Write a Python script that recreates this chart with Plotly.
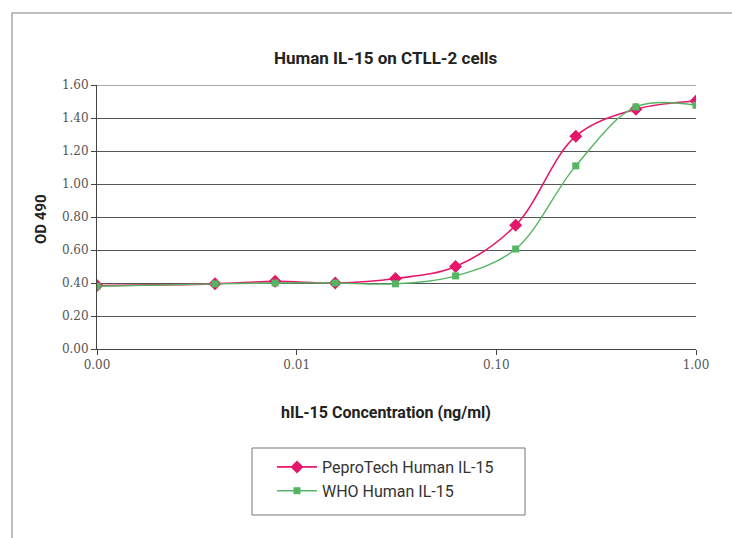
import plotly.graph_objects as go

conc = [0.001, 0.0039, 0.0078, 0.0156, 0.03125, 0.0625, 0.125, 0.25, 0.5, 1.0]
peprotech = [0.385, 0.395, 0.41, 0.40, 0.427, 0.50, 0.75, 1.29, 1.453, 1.503]
who = [0.38, 0.395, 0.40, 0.40, 0.395, 0.443, 0.606, 1.11, 1.467, 1.477]
x_tickvals = [0.001, 0.01, 0.1, 1.0]
x_ticktext = ["0.00", "0.01", "0.10", "1.00"]
y_tickvals = [0, 0.2, 0.4, 0.6, 0.8, 1.0, 1.2, 1.4, 1.6]
y_ticktext = ["0.00", "0.20", "0.40", "0.60", "0.80", "1.00", "1.20", "1.40", "1.60"]

PINK = "#e5176b"
GREEN = "#55b562"

fig = go.Figure()
fig.add_trace(go.Scatter(
    x=conc, y=peprotech, name="PeproTech Human IL-15", mode="lines+markers",
    line=dict(color=PINK, width=1.6, shape="spline", smoothing=1.0),
    marker=dict(symbol="diamond", size=10, color=PINK),
))
fig.add_trace(go.Scatter(
    x=conc, y=who, name="WHO Human IL-15", mode="lines+markers",
    line=dict(color=GREEN, width=1.4, shape="spline", smoothing=1.0),
    marker=dict(symbol="square", size=7, color=GREEN),
))

L, R, T, B = 97, 36, 85, 189
W, H = 732, 538
pw, ph = W - L - R, H - T - B

def px_x(p):
    return (p - L) / pw

def px_y(p):
    return (H - B - p) / ph

fig.update_layout(
    width=W, height=H,
    margin=dict(l=L, r=R, t=T, b=B, pad=0),
    paper_bgcolor="white", plot_bgcolor="white",
    showlegend=True,
    legend=dict(
        x=px_x(272), y=px_y(450), xanchor="left", yanchor="top",
        borderwidth=0, bgcolor="rgba(0,0,0,0)",
        font=dict(family="Roboto, sans-serif", size=16, color="#333"),
        itemwidth=40,
    ),
    xaxis=dict(
        type="log", range=[-3, 0], tickvals=x_tickvals, ticktext=x_ticktext,
        showgrid=False, showline=True, linecolor="#444", linewidth=1,
        ticks="outside", ticklen=5, tickcolor="#444",
        tickfont=dict(family="'DejaVu Serif', serif", size=12, color="#555"),
        zeroline=False,
    ),
    yaxis=dict(
        range=[0, 1.6], tickvals=y_tickvals, ticktext=y_ticktext,
        showgrid=True, gridcolor="#555", gridwidth=1,
        showline=True, linecolor="#444", linewidth=1,
        ticks="outside", ticklen=5, tickcolor="#444",
        tickfont=dict(family="'DejaVu Serif', serif", size=12, color="#555"),
        zeroline=False,
    ),
    shapes=[
        dict(type="rect", xref="paper", yref="paper",
             x0=px_x(12), y0=px_y(560), x1=px_x(760), y1=px_y(13),
             line=dict(color="#aaa", width=1.5), layer="below"),
        dict(type="line", xref="paper", yref="y", x0=0, x1=1, y0=1.6, y1=1.6,
             line=dict(color="#555", width=1), layer="below"),
        dict(type="rect", xref="paper", yref="paper",
             x0=px_x(252), y0=px_y(515), x1=px_x(525), y1=px_y(448),
             line=dict(color="#777", width=1), fillcolor="white", layer="below"),
    ],
    annotations=[
        dict(text="<b>Human IL-15 on CTLL-2 cells</b>", xref="paper", yref="paper",
             x=px_x(386), y=px_y(58), xanchor="center", yanchor="middle", showarrow=False,
             font=dict(family="Roboto, sans-serif", size=17, color="#222")),
        dict(text="<b>hIL-15 Concentration (ng/ml)</b>", xref="paper", yref="paper",
             x=px_x(386), y=px_y(412), xanchor="center", yanchor="middle", showarrow=False,
             font=dict(family="Roboto, sans-serif", size=16, color="#222")),
        dict(text="<b>OD 490</b>", xref="paper", yref="paper",
             x=px_x(41), y=px_y(219), xanchor="center", yanchor="middle", showarrow=False,
             textangle=-90,
             font=dict(family="Roboto, sans-serif", size=15, color="#222")),
    ],
)

fig.write_html("out.html", config={"displayModeBar": False},
               post_script="document.body.style.margin='0';")
